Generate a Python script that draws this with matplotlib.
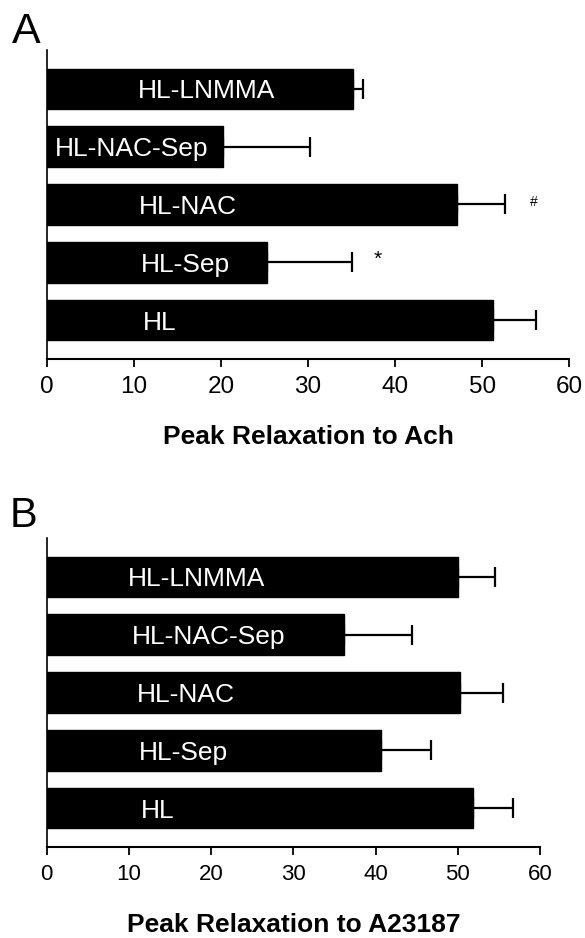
import numpy as np
from matplotlib import pyplot as plt

plt.rcParams['font.family'] = ['Liberation Sans', 'DejaVu Sans']

#%% Data (top bar first)
groups = ['HL-LNMMA', 'HL-NAC-Sep', 'HL-NAC', 'HL-Sep', 'HL']

ach_mean = [35.1, 20.2, 47.1, 25.3, 51.2]
ach_sem = [1.2, 10.0, 5.5, 9.7, 5.0]
ach_marks = ['', '', '#', '*', '']

a23_mean = [50.0, 36.2, 50.3, 40.7, 51.9]
a23_sem = [4.5, 8.2, 5.2, 6.0, 4.8]

xticks = [0, 10, 20, 30, 40, 50, 60]

#%% Figure
fig = plt.figure(figsize=(5.85, 9.38), dpi=100)

def panel(rect, means, sems, xlabel, label_x, tick_fs, marks=None):
	ax = fig.add_axes(rect)
	y = np.arange(len(means))[::-1]
	ax.barh(y, means, height=0.70, color='black', edgecolor='black')
	ax.errorbar(means, y, xerr=[np.zeros(len(sems)), sems], fmt='none',
				ecolor='black', elinewidth=1.6, capsize=7, capthick=1.6)
	for k in range(len(groups)):
		ax.text(label_x[k], y[k], groups[k], color='white', fontsize=19,
				ha='left', va='center_baseline')
	if marks is not None:
		for k in range(len(marks)):
			if marks[k] == '*':
				ax.text(means[k] + sems[k] + 3.0, y[k] + 0.05, '*', fontsize=15,
						ha='center', va='center')
			elif marks[k] == '#':
				ax.text(means[k] + sems[k] + 3.3, y[k] + 0.04, '#', fontsize=10,
						ha='center', va='center')
	ax.set_xlim(0, 60)
	ax.set_ylim(-0.67, 4.67)
	ax.set_xticks(xticks)
	ax.set_yticks([])
	ax.spines['top'].set_visible(False)
	ax.spines['right'].set_visible(False)
	ax.spines['left'].set_linewidth(1.2)
	ax.spines['bottom'].set_linewidth(1.5)
	ax.tick_params(axis='x', direction='out', length=6, width=1.3,
				   pad=6, labelsize=tick_fs)
	ax.set_xlabel(xlabel, fontsize=19, fontweight='bold', va='top')
	ax.xaxis.set_label_coords(0.5, -0.215)
	return ax

ax_a = panel([0.0798, 0.6173, 0.8937, 0.3294], ach_mean, ach_sem,
			 'Peak Relaxation to Ach', [10.5, 0.9, 10.6, 10.8, 11.0], 17.5,
			 marks=ach_marks)
ax_b = panel([0.0798, 0.0970, 0.8433, 0.3294], a23_mean, a23_sem,
			 'Peak Relaxation to A23187', [9.9, 10.4, 11.0, 11.2, 11.5], 16)

fig.text(12/585, 1 - 43/938, 'A', fontsize=31, ha='left', va='baseline')
fig.text(10/585, 1 - 527/938, 'B', fontsize=30, ha='left', va='baseline')

plt.savefig('out.png', dpi=100)
